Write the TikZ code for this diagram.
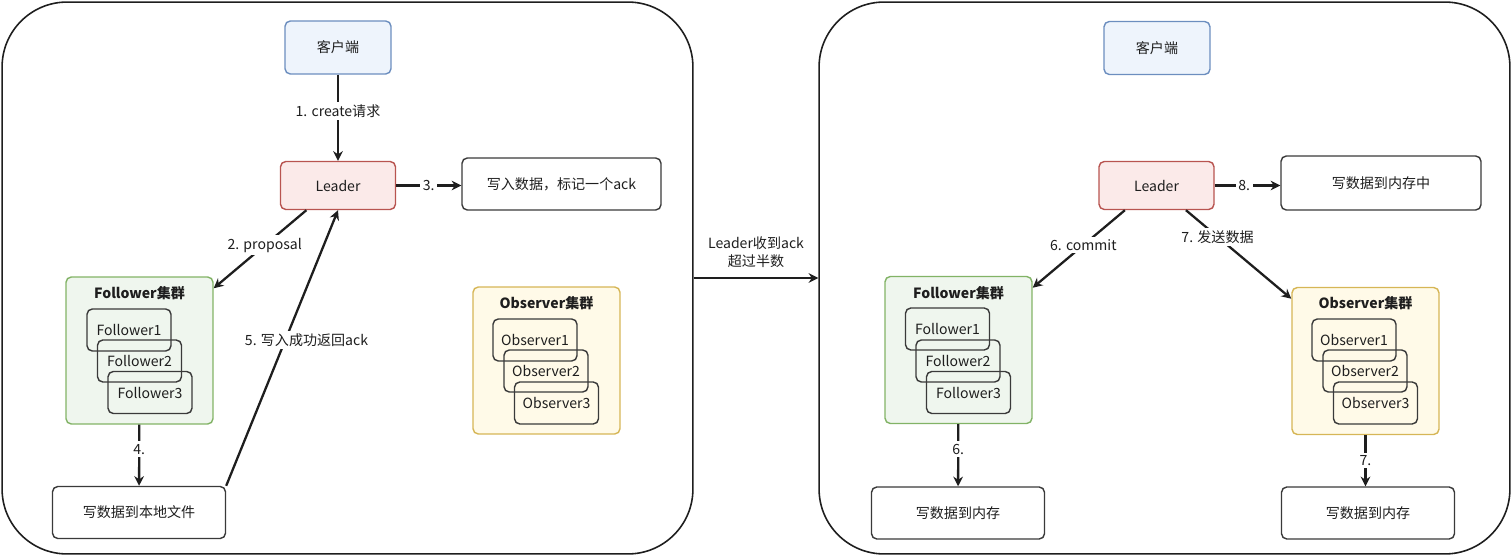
\documentclass[tikz,border=0pt]{standalone}
\usepackage{fontspec}
\setmainfont{Noto Sans CJK SC}
\usepackage{xcolor}
\usetikzlibrary{arrows.meta, positioning, calc}

\definecolor{ink}{HTML}{1E1E1E}
\definecolor{boxline}{HTML}{3A3A3A}
\definecolor{clientline}{HTML}{6C8EBF}
\definecolor{clientfill}{HTML}{EEF4FC}
\definecolor{leaderline}{HTML}{B85450}
\definecolor{leaderfill}{HTML}{FBEAE9}
\definecolor{followerline}{HTML}{82B366}
\definecolor{followerfill}{HTML}{EFF6EE}
\definecolor{observerline}{HTML}{D6B656}
\definecolor{observerfill}{HTML}{FFFAE8}

\begin{document}
\begin{tikzpicture}[
    x=0.02cm, y=-0.02cm,
    every node/.style={font=\fontsize{8}{10}\selectfont, text=ink},
    panel/.style={draw=ink, line width=0.9pt, rounded corners=1.3cm, minimum width=13.82cm, minimum height=11.04cm},
    box/.style={draw=boxline, line width=0.8pt, rounded corners=3pt, fill=white, inner sep=0pt},
    client/.style={box, draw=clientline, fill=clientfill, minimum width=2.12cm, minimum height=1.06cm},
    leader/.style={box, draw=leaderline, fill=leaderfill, minimum width=2.3cm, minimum height=0.96cm},
    cluster/.style={box, minimum width=2.94cm, minimum height=2.94cm},
    fcluster/.style={cluster, draw=followerline, fill=followerfill},
    ocluster/.style={cluster, draw=observerline, fill=observerfill},
    member/.style={box, fill=none, minimum width=1.68cm, minimum height=0.84cm},
    title/.style={font=\fontsize{8}{10}\selectfont\bfseries},
    store/.style={box, minimum width=3.46cm, minimum height=1.04cm},
    flow/.style={draw=ink, line width=1.3pt, -{Stealth[length=5.5pt, width=5.5pt]}},
    steplabel/.style={fill=white, inner sep=1.5pt}
]
\useasboundingbox (0,0) rectangle (1512,557);

% Panels
\node[panel] (lpanel) at (347.5,278) {};
\node[panel] (rpanel) at (1164.5,278) {};

% Left: write on leader
\node[client] (lclient) at (338,47.5) {客户端};
\node[leader] (lleader) at (338,185.5) {Leader};
\node[box, minimum width=3.98cm, minimum height=1.04cm] (lack) at (561.5,184) {写入数据，标记一个ack};

\node[fcluster] (lfcl) at (139.5,350.5) {};
\node[title] (lftitle) at (139.5,293) {Follower集群};
\node[member] (lf1) at (129,330) {Follower1};
\node[member] (lf2) at (139.5,361) {Follower2};
\node[member] (lf3) at (150,392.5) {Follower3};
\node[store] (lfile) at (139,512.5) {写数据到本地文件};

\node[ocluster] (locl) at (546.5,360.5) {};
\node[title] (lotitle) at (546.5,303) {Observer集群};
\node[member] (lo1) at (535,340) {Observer1};
\node[member] (lo2) at (546,371) {Observer2};
\node[member] (lo3) at (556.5,403) {Observer3};

\draw[flow] (lclient) -- node[steplabel, pos=0.42] {1. create请求} (lleader);
\draw[flow] (lleader.east) -- node[steplabel] {3.} (lleader.east -| lack.west);
\draw[flow] (lleader.218) -- node[steplabel, pos=0.45] {2. proposal} (lfcl.40);
\draw[flow] (lfcl) -- node[steplabel, pos=0.4] {4.} (lfile);
\draw[flow] (lfile.north east) -- node[steplabel, pos=0.53, xshift=12] {5. 写入成功返回ack} (lleader.south);

% Between panels
\draw[flow] (lpanel.east) -- node[above=2pt, align=center] {Leader收到ack\\超过半数} (rpanel.west);

% Right: commit
\node[client] (rclient) at (1157,48) {客户端};
\node[leader] (rleader) at (1156.5,185.5) {Leader};
\node[box, minimum width=4cm, minimum height=1.08cm] (rmem) at (1381,183) {写数据到内存中};

\node[fcluster] (rfcl) at (958.5,350) {};
\node[title] (rftitle) at (958.5,293) {Follower集群};
\node[member] (rf1) at (947.5,329) {Follower1};
\node[member] (rf2) at (958,361) {Follower2};
\node[member] (rf3) at (968.5,392.5) {Follower3};
\node[store] (rfmem) at (958,513) {写数据到内存};

\node[ocluster] (rocl) at (1365.5,361) {};
\node[title] (rotitle) at (1365.5,303) {Observer集群};
\node[member] (ro1) at (1354,340) {Observer1};
\node[member] (ro2) at (1365,371) {Observer2};
\node[member] (ro3) at (1375.5,403) {Observer3};
\node[store] (romem) at (1368,513) {写数据到内存};

\draw[flow] (rleader.east) -- node[steplabel, pos=0.45] {8.} (rleader.east -| rmem.west);
\draw[flow] (rleader.218) -- node[steplabel, pos=0.45] {6. commit} (rfcl.40);
\draw[flow] (rleader.320) -- node[steplabel, pos=0.3] {7. 发送数据} (rocl.140);
\draw[flow] (rfcl) -- node[steplabel, pos=0.4] {6.} (rfmem);
\draw[flow] (rocl.south) -- node[steplabel] {7.} (rocl.south |- romem.north);

\end{tikzpicture}
\end{document}
